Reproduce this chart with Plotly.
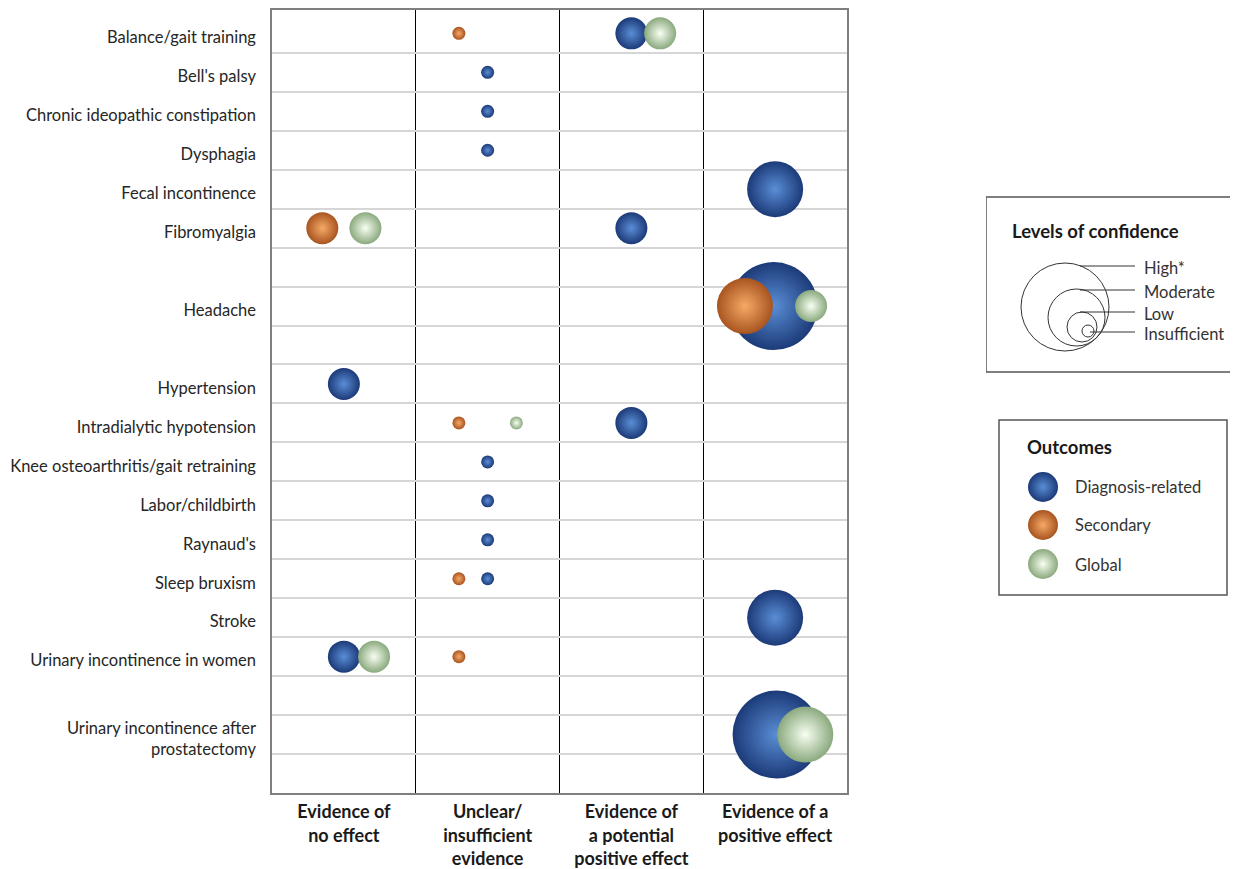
import plotly.graph_objects as go

# ---------------- data ----------------
conditions = [
    "Balance/gait training", "Bell's palsy", "Chronic ideopathic constipation",
    "Dysphagia", "Fecal incontinence", "Fibromyalgia", "Headache", "Hypertension",
    "Intradialytic hypotension", "Knee osteoarthritis/gait retraining",
    "Labor/childbirth", "Raynaud's", "Sleep bruxism", "Stroke",
    "Urinary incontinence in women", "Urinary incontinence after<br>prostatectomy",
]
condition_y = [19.5, 18.5, 17.5, 16.5, 15.5, 14.5, 12.5, 10.5, 9.5, 8.5,
               7.5, 6.5, 5.5, 4.5, 3.5, 1.5]

evidence_labels = [
    "<b>Evidence of<br>no effect</b>",
    "<b>Unclear/<br>insufficient<br>evidence</b>",
    "<b>Evidence of<br>a potential<br>positive effect</b>",
    "<b>Evidence of a<br>positive effect</b>",
]
evidence_x = [0.5, 1.5, 2.5, 3.5]

levels = ["High*", "Moderate", "Low", "Insufficient"]

# Diagnosis-related outcomes
diag_cond = ["Balance/gait training", "Bell's palsy", "Chronic ideopathic constipation",
             "Dysphagia", "Fecal incontinence", "Fibromyalgia", "Headache", "Hypertension",
             "Intradialytic hypotension", "Knee osteoarthritis/gait retraining",
             "Labor/childbirth", "Raynaud's", "Sleep bruxism", "Stroke",
             "Urinary incontinence in women", "Urinary incontinence after<br>prostatectomy"]
diag_x = [2.5, 1.5, 1.5, 1.5, 3.5, 2.5, 3.49, 0.5, 2.5, 1.5, 1.5, 1.5, 1.5, 3.5, 0.5, 3.51]
diag_level = ["Low", "Insufficient", "Insufficient", "Insufficient", "Moderate", "Low",
              "High*", "Low", "Low", "Insufficient", "Insufficient", "Insufficient",
              "Insufficient", "Moderate", "Low", "High*"]

# Secondary outcomes
sec_cond = ["Balance/gait training", "Fibromyalgia", "Headache", "Intradialytic hypotension",
            "Sleep bruxism", "Urinary incontinence in women"]
sec_x = [1.3, 0.35, 3.29, 1.3, 1.3, 1.3]
sec_level = ["Insufficient", "Low", "Moderate", "Insufficient", "Insufficient", "Insufficient"]

# Global outcomes
glob_cond = ["Balance/gait training", "Fibromyalgia", "Headache", "Intradialytic hypotension",
             "Urinary incontinence in women", "Urinary incontinence after<br>prostatectomy"]
glob_x = [2.7, 0.65, 3.75, 1.7, 0.71, 3.71]
glob_level = ["Low", "Low", "Low", "Insufficient", "Low", "Moderate"]

# ---------------- style ----------------
W, H = 1238, 869
OFF = 8                      # browser body margin
PL, PT, PR, PB = 272, 10, 847, 793   # plot frame in page pixels
ML, MT = PL - OFF, PT - OFF
MB = H - (PB - OFF)
AREA_W = W - ML
FONT = "Lato"
TXT = "#262626"

level_size = {"High*": 88, "Moderate": 56, "Low": 32, "Insufficient": 13}
series_style = {
    "Diagnosis-related": dict(edge="#1c3a78", center="#5a8ed6"),
    "Secondary": dict(edge="#a85420", center="#f6aa66"),
    "Global": dict(edge="#8aa97e", center="#f8fff2"),
}
y_of = dict(zip(conditions, condition_y))

fig = go.Figure()

def add_series(name, conds, xs, lvls):
    st = series_style[name]
    fig.add_trace(go.Scatter(
        x=xs, y=[y_of[c] for c in conds], mode="markers", name=name,
        marker=dict(size=[level_size[l] for l in lvls], sizemode="diameter",
                    color=st["edge"], opacity=1,
                    gradient=dict(type="radial", color=st["center"]),
                    line=dict(width=0)),
        cliponaxis=False, showlegend=False, hoverinfo="skip",
    ))

add_series("Diagnosis-related", diag_cond, diag_x, diag_level)
add_series("Secondary", sec_cond, sec_x, sec_level)
add_series("Global", glob_cond, glob_x, glob_level)

# ---------------- legends (page-pixel helper axes) ----------------
LX0 = 986
fig.add_trace(go.Scatter(
    x=[1043, 1043, 1043], y=[487, 525, 564], mode="markers", xaxis="x2", yaxis="y2",
    marker=dict(size=30, color=[series_style[k]["edge"] for k in series_style],
                gradient=dict(type="radial", color=[series_style[k]["center"] for k in series_style]),
                line=dict(width=0)),
    showlegend=False, hoverinfo="skip", cliponaxis=False,
))

shapes = []
annotations = []
# confidence box (open on the right, running off the page)
box_line = dict(color="#555555", width=1.5)
for x0, y0, x1, y1 in [(986, 197, 1250, 197), (986, 372, 1250, 372), (986, 197, 986, 372)]:
    shapes.append(dict(type="line", xref="x2", yref="y2", x0=x0, y0=y0, x1=x1, y1=y1,
                       line=box_line))
circles = [(1065, 307, 44), (1076.5, 317.5, 28.5), (1082, 327, 15), (1088, 331, 6)]
for cx, cy, r in circles:
    shapes.append(dict(type="circle", xref="x2", yref="y2", x0=cx - r, x1=cx + r,
                       y0=cy - r, y1=cy + r, line=dict(color="#333333", width=1)))
leader = [(1080, 266), (1080, 290), (1080, 312), (1090, 332)]
for (x0, yy), lab in zip(leader, levels):
    shapes.append(dict(type="line", xref="x2", yref="y2", x0=x0, x1=1135, y0=yy, y1=yy,
                       line=dict(color="#333333", width=1)))
    annotations.append(dict(xref="x2", yref="y2", x=1142, y=yy + 1.5, text=lab, showarrow=False,
                            xanchor="left", yanchor="middle",
                            font=dict(family=FONT, size=16.5, color="#333333")))
annotations.append(dict(xref="x2", yref="y2", x=1010, y=231, text="<b>Levels of confidence</b>",
                        showarrow=False, xanchor="left", yanchor="middle",
                        font=dict(family=FONT, size=18.5, color="#1a1a1a")))
# outcomes box
shapes.append(dict(type="rect", xref="x2", yref="y2", x0=999, x1=1227, y0=420, y1=595,
                   line=box_line))
annotations.append(dict(xref="x2", yref="y2", x=1025, y=447, text="<b>Outcomes</b>",
                        showarrow=False, xanchor="left", yanchor="middle",
                        font=dict(family=FONT, size=18.5, color="#1a1a1a")))
for yy, lab in zip([487, 525, 565], list(series_style.keys())):
    annotations.append(dict(xref="x2", yref="y2", x=1073, y=yy, text=lab, showarrow=False,
                            xanchor="left", yanchor="middle",
                            font=dict(family=FONT, size=16.5, color="#333333")))

fig.update_layout(
    width=W, height=H,
    margin=dict(l=ML, r=0, t=MT, b=MB, pad=0),
    paper_bgcolor="white", plot_bgcolor="white",
    font=dict(family=FONT, color=TXT),
    xaxis=dict(domain=[0, (PR - PL) / AREA_W], range=[0, 4], fixedrange=True,
               tickmode="array", tickvals=evidence_x, ticktext=evidence_labels,
               showgrid=False, zeroline=False, ticks="", ticklabelstandoff=2,
               tickfont=dict(family=FONT, size=18, color="#1a1a1a"),
               showline=True, mirror=True, linecolor="#7f7f7f", linewidth=1.5,
               minor=dict(tickmode="array", tickvals=[1, 2, 3], showgrid=True,
                          gridcolor="#000000", gridwidth=1.2, ticks="")),
    yaxis=dict(range=[0, 20.1], fixedrange=True, automargin=False,
               tickmode="array", tickvals=condition_y, ticktext=conditions,
               showgrid=False, zeroline=False, ticks="", ticklabelstandoff=11,
               ticklabelshift=4,
               tickfont=dict(family=FONT, size=16.5, color=TXT),
               showline=True, mirror=True, linecolor="#7f7f7f", linewidth=1.5,
               minor=dict(tickmode="array", tickvals=list(range(1, 20)), showgrid=True,
                          gridcolor="#d6d6d6", gridwidth=1.5, ticks="")),
    xaxis2=dict(domain=[(LX0 - OFF - ML) / AREA_W, 1], range=[LX0, W + OFF], anchor="y2",
                visible=False, fixedrange=True),
    yaxis2=dict(domain=[0, 1], range=[PB, PT], anchor="x2", visible=False,
                fixedrange=True),
    shapes=shapes, annotations=annotations,
)
fig.update_xaxes(automargin=False)

fig.write_html("out.html")
